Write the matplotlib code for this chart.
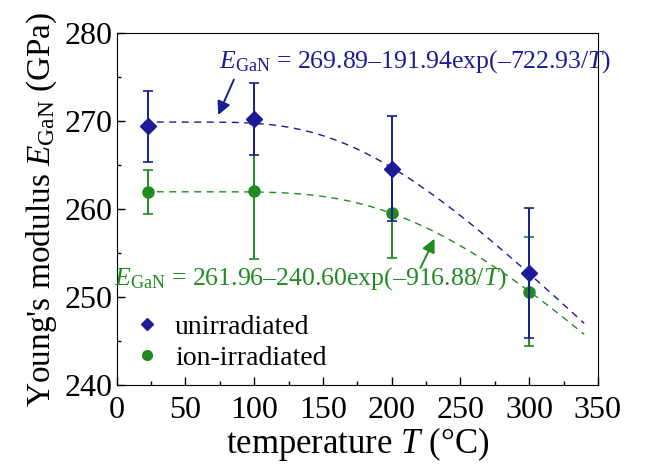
import numpy as np
import matplotlib
matplotlib.use("Agg")
import matplotlib.pyplot as plt
from matplotlib.ticker import MultipleLocator
from matplotlib.lines import Line2D

plt.rcParams['font.family'] = ['Liberation Serif', 'DejaVu Serif']
plt.rcParams['mathtext.fontset'] = 'custom'
plt.rcParams['mathtext.rm'] = 'Liberation Serif'
plt.rcParams['mathtext.it'] = 'Liberation Serif:italic'

# measured data
temps = [23, 100, 200, 300]
unirr = [269.4, 270.2, 264.6, 252.7]
unirr_err = [4.0, 4.1, 6.0, 7.4]
ionirr = [261.9, 262.0, 259.5, 250.6]
ionirr_err = [2.5, 7.7, 5.1, 6.2]

# fit parameters E = a - b*exp(-c/T)
fit_unirr = (269.89, 191.94, 722.93)
fit_ionirr = (261.96, 240.60, 916.88)

blue = '#1b1b96'
green = '#228a22'

fig = plt.figure(figsize=(6.45, 4.67), dpi=100)
ax = fig.add_axes([0.181, 0.176, 0.746, 0.753])

tt = np.linspace(20, 340, 300)
for (a, b, c), col in [(fit_unirr, blue), (fit_ionirr, green)]:
    ax.plot(tt, a - b*np.exp(-c/tt), ls=(0, (5, 4)), color=col, lw=1.0)

ax.errorbar(temps, ionirr, yerr=ionirr_err, fmt='o', color=green, ms=8,
            capsize=3.5, elinewidth=1.4, capthick=1.2, zorder=3)
ax.errorbar(temps, unirr, yerr=unirr_err, fmt='D', color=blue, ms=8,
            capsize=3.5, elinewidth=1.4, capthick=1.2, zorder=4)

ax.text(217, 276.8, r"$E_{\mathrm{GaN}}$ = 269.89–191.94exp(–722.93/$T$)",
        color=blue, fontsize=18.5, ha='center', va='center')
ax.text(141, 252.1, r"$E_{\mathrm{GaN}}$ = 261.96–240.60exp(–916.88/$T$)",
        color=green, fontsize=18.5, ha='center', va='center')
ax.annotate('', xy=(73, 270.4), xytext=(86, 275.0),
            arrowprops=dict(arrowstyle='-|>', color=blue, lw=1.4, mutation_scale=20))
ax.annotate('', xy=(232, 256.9), xytext=(220, 253.0),
            arrowprops=dict(arrowstyle='-|>', color=green, lw=1.4, mutation_scale=20))

ax.set_xlim(0, 350)
ax.set_ylim(240, 280)
ax.xaxis.set_major_locator(MultipleLocator(50))
ax.xaxis.set_minor_locator(MultipleLocator(25))
ax.yaxis.set_major_locator(MultipleLocator(10))
ax.yaxis.set_minor_locator(MultipleLocator(5))
ax.tick_params(which='both', direction='in', labelsize=23)
ax.tick_params(axis='x', pad=8)
ax.tick_params(axis='y', pad=3)
ax.tick_params(which='major', length=6, width=1.0)
ax.tick_params(which='minor', length=3, width=1.0)
ax.set_xlabel(r"temperature $T$ (°C)", fontsize=25, labelpad=0)
ax.set_ylabel(r"Young's modulus $E_{\mathrm{GaN}}$ (GPa)", fontsize=24, labelpad=4)

handles = [Line2D([], [], ls='none', marker='D', color=blue, ms=6),
           Line2D([], [], ls='none', marker='o', color=green, ms=7)]
ax.legend(handles, ['unirradiated', 'ion-irradiated'], loc='lower left',
          frameon=False, fontsize=20, handletextpad=0.4, handlelength=1.2,
          borderaxespad=0.1, labelspacing=0.2)

fig.savefig('out.png', dpi=100)
